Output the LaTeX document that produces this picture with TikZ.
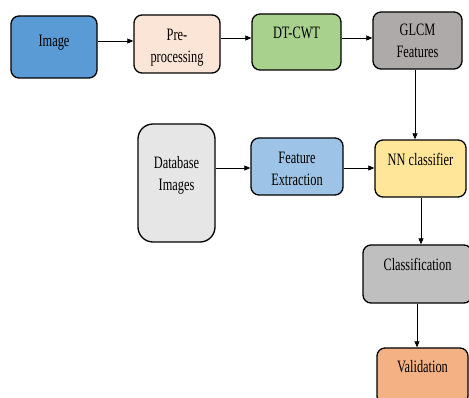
\documentclass[tikz,border=0pt]{standalone}
\usepackage{fontspec}
\usepackage{graphicx}
\setmainfont{Liberation Serif}
\usetikzlibrary{arrows.meta}
\definecolor{cimg}{HTML}{5B9BD5}
\definecolor{cpre}{HTML}{FBE5D6}
\definecolor{cdt}{HTML}{A9D18E}
\definecolor{cglcm}{HTML}{AEAAAA}
\definecolor{cdb}{HTML}{E7E6E6}
\definecolor{cfe}{HTML}{9DC3E6}
\definecolor{cnn}{HTML}{FFE699}
\definecolor{ccls}{HTML}{BFBFBF}
\definecolor{cval}{HTML}{F4B183}
\newcommand\tx[1]{\scalebox{1.03}[1.45]{\fontsize{12}{15.5}\selectfont\begin{tabular}{@{}c@{}}#1\end{tabular}}}
\tikzset{
  blk/.style={draw=black, line width=1.3pt, rounded corners=8pt, inner sep=0pt, minimum width=#1},
  txt/.style={inner sep=0pt},
  arr/.style={line width=0.7pt, -{Triangle[length=6pt,width=5pt]}}
}
\begin{document}
\begin{tikzpicture}[x=1pt,y=-1pt]
\useasboundingbox (0,0) rectangle (469,398);
\clip (0,0) rectangle (469,398);
% boxes
\node[blk=86pt, minimum height=62pt, fill=cimg] (img) at (54,47) {};
\node[blk=86pt, minimum height=58pt, fill=cpre] (pre) at (177,44) {};
\node[blk=89pt, minimum height=56pt, fill=cdt] (dt) at (296.5,42) {};
\node[blk=89pt, minimum height=57pt, fill=cglcm] (glcm) at (417.5,40.5) {};
\node[blk=77pt, minimum height=118pt, fill=cdb, rounded corners=15pt] (db) at (176.5,183) {};
\node[blk=92pt, minimum height=57pt, fill=cfe] (fe) at (297,166.5) {};
\node[blk=91pt, minimum height=57pt, fill=cnn] (nn) at (420.5,168.5) {};
\node[blk=109pt, minimum height=58pt, fill=ccls] (cls) at (417.5,274) {};
\node[blk=91pt, minimum height=56pt, fill=cval] (val) at (422.5,376) {};
% texts
\node[txt] (timg) at (54,42) {\tx{Image}};
\node[txt] (tpre) at (177,47) {\tx{Pre-\\processing}};
\node[txt] (tdt) at (296.5,34) {\tx{DT-CWT}};
\node[txt] (tglcm) at (417.5,42) {\tx{GLCM\\Features}};
\node[txt] (tdb) at (176.5,175) {\tx{Database\\Images}};
\node[txt] (tfe) at (297,170) {\tx{Feature\\Extraction}};
\node[txt] (tnn) at (420.5,161) {\tx{NN classifier}};
\node[txt] (tcls) at (417.5,266) {\tx{Classification}};
\node[txt] (tval) at (422.5,368) {\tx{Validation}};
% connectors
\draw[arr] (img.east |- 0,41) -- (pre.west |- 0,41);
\draw[arr] (pre.east |- 0,38) -- (dt.west |- 0,38);
\draw[arr] (dt.east |- 0,38) -- (glcm.west |- 0,38);
\draw[arr] (glcm.south -| 415,0) -- (nn.north -| 415,0);
\draw[arr] (db.east |- 0,168) -- (fe.west |- 0,168);
\draw[arr] (fe.east |- 0,168) -- (nn.west |- 0,168);
\draw[arr] (nn.south -| 421,0) -- (cls.north -| 421,0);
\draw[arr] (cls.south -| 417,0) -- (val.north -| 417,0);
\end{tikzpicture}
\end{document}
